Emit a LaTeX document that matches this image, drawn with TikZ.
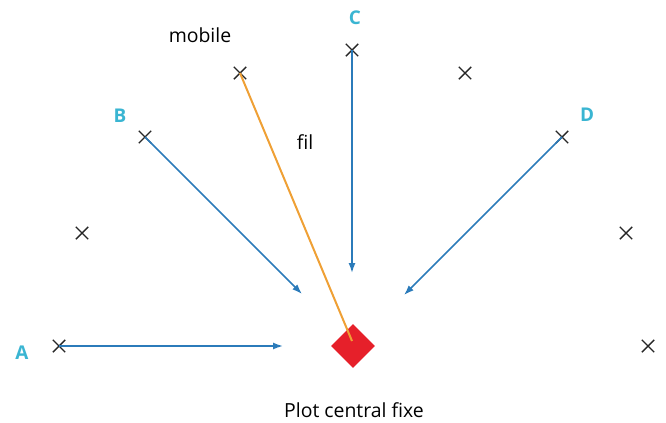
\documentclass[tikz,border=0pt]{standalone}
\usepackage{fontspec}
\setmainfont{Open Sans}
\usepackage{xcolor}
\usetikzlibrary{arrows.meta,shapes.misc,shapes.geometric}
\definecolor{arrowblue}{HTML}{2B7BBA}
\definecolor{labelcyan}{HTML}{3AB5D2}
\definecolor{filorange}{HTML}{EFA035}
\definecolor{plotred}{HTML}{E6202A}
\tikzset{every picture/.style={line width=0.75pt}}
\tikzset{
  repere/.style={cross out, draw=black!85, minimum size=11bp, inner sep=0pt, line width=1.4bp},
  lettre/.style={text=labelcyan, font=\fontsize{19}{22}\selectfont\bfseries},
  legende/.style={font=\fontsize{19.5}{22}\selectfont},
  trajet/.style={draw=arrowblue, line width=1.5bp, -{Latex[length=10bp,width=7bp]}}
}

\begin{document}
\begin{tikzpicture}[x=1bp,y=-1bp]
	\useasboundingbox (0,0) rectangle (666,422);
	% positions
	\node[repere] (pa) at (59,346) {};
	\node[repere] (p1) at (82,233) {};
	\node[repere] (pb) at (145,137) {};
	\node[repere] (pm) at (240,73) {};
	\node[repere] (pc) at (352,50) {};
	\node[repere] (p2) at (465,73) {};
	\node[repere] (pd) at (562,137) {};
	\node[repere] (p3) at (626,233) {};
	\node[repere] (p4) at (648,346) {};
	%
	\node[diamond, fill=plotred, inner sep=0pt, minimum width=44bp, minimum height=44bp] (plot) at (353,346) {};
	\coordinate (fa) at (283,346);
	\coordinate (fb) at (302,294);
	\coordinate (fc) at (352,273);
	\coordinate (fd) at (404,295);
	\coordinate (bout) at (352,341);
	%
	\draw[trajet] (pa.center) -- (fa);
	\draw[trajet] (pb.center) -- (fb);
	\draw[trajet] (pc.center) -- (fc);
	\draw[trajet] (pd.center) -- (fd);
	\draw[filorange, line width=2bp] (pm.center) -- (bout);
	%
	\node[lettre] (la) at (22,353) {A};
	\node[lettre] (lb) at (120,116) {B};
	\node[lettre] (lc) at (355,18) {C};
	\node[lettre] (ld) at (587,115) {D};
	\node[legende] (mob) at (200,35) {mobile};
	\node[legende] (fil) at (305,142) {fil};
	\node[legende] (pcf) at (354,410) {Plot central fixe};
\end{tikzpicture}
\end{document}
